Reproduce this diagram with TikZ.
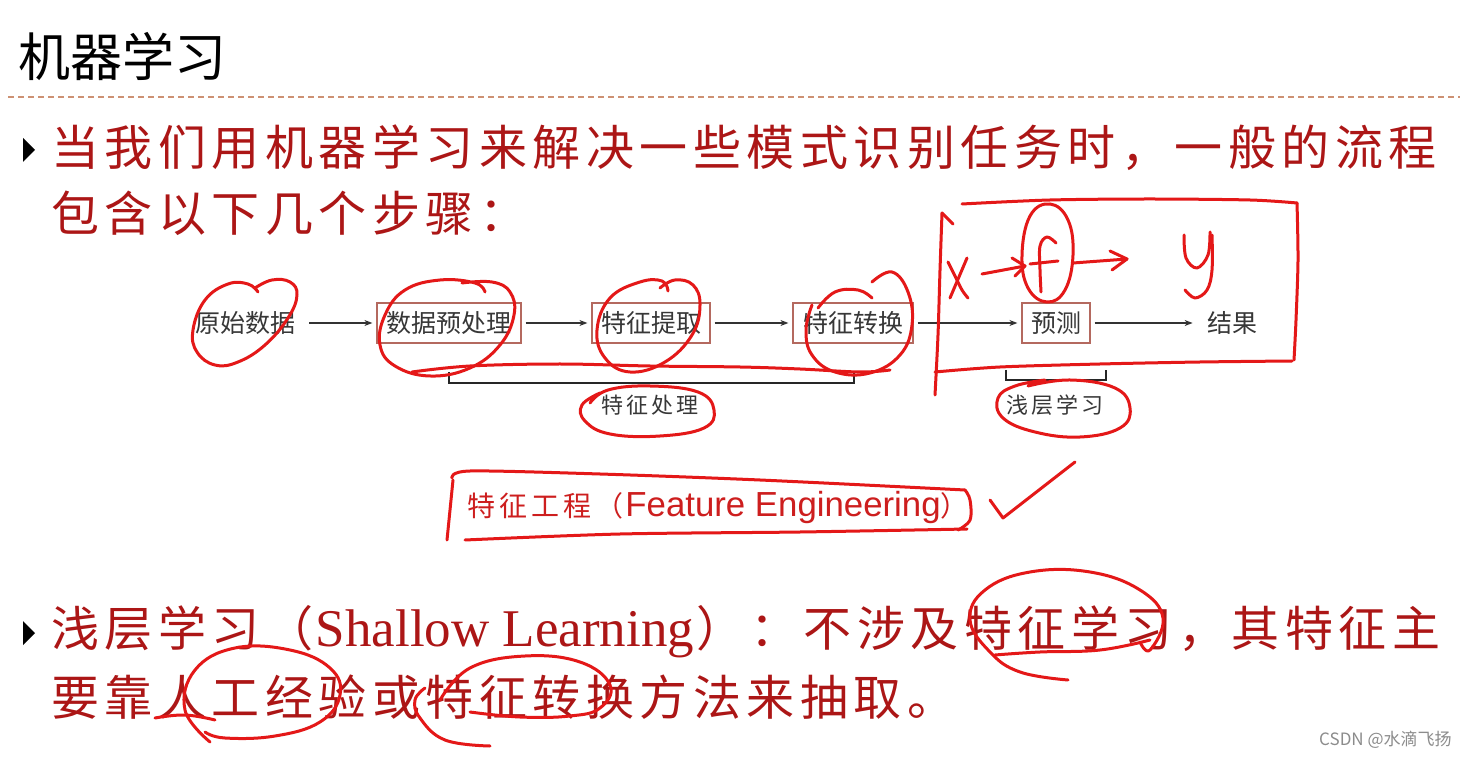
\documentclass[tikz,border=0pt]{standalone}
\usepackage{fontspec}
\setmainfont{Noto Sans CJK SC}
\newfontfamily\lserif{Liberation Serif}
\newfontfamily\lsans{Liberation Sans}
\usetikzlibrary{arrows.meta}
\definecolor{txtred}{RGB}{172,22,22}
\definecolor{annot}{RGB}{228,24,24}
\definecolor{fered}{RGB}{205,30,30}
\definecolor{dgray}{RGB}{55,55,55}
\definecolor{boxc}{RGB}{180,105,95}
\definecolor{dashc}{RGB}{205,145,115}
\makeatletter
\newcommand\spc[2]{\@tfor\sp@c:=#2\do{\makebox[#1][c]{\sp@c}}}
\makeatother
\newcommand\bigtxt{\fontsize{24pt}{24pt}\selectfont}
\begin{document}
\begin{tikzpicture}[x=0.5pt,y=-0.5pt,
  hand/.style={draw=annot,line width=1.5pt,line cap=round,line join=round},
  steplbl/.style={inner sep=1pt,text=dgray,font=\fontsize{12.5pt}{13pt}\selectfont},
  stepbox/.style={steplbl,draw=boxc,line width=0.6pt,minimum height=20pt},
  flow/.style={-{Stealth[length=4pt,width=3pt]},line width=0.6pt,draw=black!80},
  brk/.style={line width=0.7pt,draw=black!85},
  line/.style={anchor=west,inner sep=0pt,text=txtred}]
\useasboundingbox (0,0) rectangle (1465,758);
\fill[white] (0,0) rectangle (1465,758);
% title
\node[anchor=west,inner sep=0pt,font=\fontsize{26pt}{26pt}\selectfont] (title) at (18,57) {机器学习};
\draw[dashc,line width=0.6pt,dash pattern=on 3pt off 2pt] (8,97) -- (1460,97);
% bullets
\fill (23,138) -- (35,150) -- (23,162) -- cycle;
\fill (23,621) -- (35,633) -- (23,645) -- cycle;
\node[line] (l1) at (48,148) {\bigtxt\spc{26.75pt}{当我们用机器学习来解决一些模式识别任务时，一般的流程}};
\node[line] (l2) at (48,213) {\bigtxt\spc{26.75pt}{包含以下几个步骤：}};
\node[line] (l3) at (48,632) {\bigtxt\spc{26.75pt}{浅层学习（}{\lserif\fontsize{26.5pt}{26.5pt}\selectfont Shallow Learning}\spc{26.75pt}{）：不涉及特征学习，其特征主}};
\node[line] (l4) at (48,697) {\bigtxt\spc{26.75pt}{要靠人工经验或特征转换方法来抽取。}};
% flow diagram
\node[steplbl] (raw) at (245,323) {原始数据};
\node[stepbox,minimum width=72pt] (pre) at (449,323) {数据预处理};
\node[stepbox,minimum width=59pt] (fex) at (651,323) {特征提取};
\node[stepbox,minimum width=60pt] (ftr) at (853,323) {特征转换};
\node[stepbox,minimum width=34pt] (pred) at (1056,323) {预测};
\node[steplbl] (res) at (1232,323) {结果};
\draw[flow,shorten <=6pt,shorten >=2pt] (raw) -- (pre);
\draw[flow,shorten <=2pt,shorten >=2pt] (pre) -- (fex);
\draw[flow,shorten <=2pt,shorten >=2pt] (fex) -- (ftr);
\draw[flow,shorten <=2pt,shorten >=2pt] (ftr) -- (pred);
\draw[flow,shorten <=2pt,shorten >=6pt] (pred) -- (res);
\coordinate (b1) at (449,372); \coordinate (b2) at (854,372);
\coordinate (b3) at (1006,370); \coordinate (b4) at (1106,370);
\draw[brk] (b1) -- ++(0,11) -| (b2);
\draw[brk] (b3) -- ++(0,10) -| (b4);
\node[steplbl,font=\fontsize{11pt}{11pt}\selectfont] (fp) at (650,405) {\spc{12.5pt}{特征处理}};
\node[steplbl,font=\fontsize{11pt}{11pt}\selectfont] (sl) at (1055,405) {\spc{12.5pt}{浅层学习}};
% feature engineering
\node[anchor=west,inner sep=0pt,text=fered] (fe) at (465,508) {\fontsize{14pt}{14pt}\selectfont\spc{16pt}{特征工程（}{\lsans\fontsize{17.4pt}{17.4pt}\selectfont Feature Engineering}）};
% watermark
\node[anchor=east,inner sep=0pt,text=black!45,font=\fontsize{8.5pt}{8.5pt}\selectfont] (wm) at (1452,740) {CSDN @水滴飞扬};
% ---- handwritten annotations ----
\draw[hand] plot[smooth,tension=0.7] coordinates {(258,292) (248,284) (228,284) (205,300) (193,330) (197,352) (215,365) (238,362) (265,345) (288,318) (297,295) (290,282) (272,280) (255,288)};
\draw[hand] plot[smooth,tension=0.7] coordinates {(485,292) (475,283) (440,280) (405,290) (385,315) (380,345) (395,366) (430,376) (470,368) (500,345) (514,315) (510,292) (492,282) (462,283)};
\draw[hand] plot[smooth,tension=0.7] coordinates {(668,291) (662,281) (640,282) (610,298) (597,330) (605,358) (630,372) (665,362) (692,335) (700,305) (693,285) (675,280) (660,288)};
\draw[hand] plot[smooth,tension=0.7] coordinates {(818,308) (835,292) (858,290) (872,298)};
\draw[hand] plot[smooth,tension=0.7] coordinates {(872,282) (892,272) (908,292) (912,325) (900,355) (870,373) (835,372) (812,355) (806,330) (812,305)};
\draw[hand] plot[smooth,tension=0.6] coordinates {(412,372) (470,366) (560,364) (650,366) (740,367) (800,369) (860,372) (890,370)};
% box around x -> f -> y
\draw[hand] plot[smooth,tension=0.5] coordinates {(942,213) (940,270) (938,335) (935,395)};
\draw[hand] (942,213) -- (953,224);
\draw[hand] plot[smooth,tension=0.5] coordinates {(962,204) (1050,200) (1150,199) (1250,200) (1297,203)};
\draw[hand] plot[smooth,tension=0.5] coordinates {(1297,203) (1298,260) (1296,320) (1294,360)};
\draw[hand] plot[smooth,tension=0.5] coordinates {(1292,361) (1200,362) (1100,364) (1000,367) (935,372)};
\draw[hand] plot[smooth,tension=0.6] coordinates {(948,262) (955,276) (962,290) (968,298)};
\draw[hand] (967,258) -- (950,298);
\draw[hand] (982,274) -- (1025,266);
\draw[hand] (1012,258) -- (1025,266) -- (1015,276);
\draw[hand] plot[smooth,tension=0.6] coordinates {(1056,243) (1047,237) (1040,246) (1040,270) (1041,292)};
\draw[hand] (1030,264) -- (1058,261);
\draw[hand] plot[smooth cycle,tension=0.7] coordinates {(1050,204) (1068,220) (1073,255) (1065,290) (1047,302) (1028,288) (1022,255) (1030,216)};
\draw[hand] (1073,263) -- (1127,259);
\draw[hand] (1110,251) -- (1127,259) -- (1112,270);
\draw[hand] plot[smooth,tension=0.6] coordinates {(1184,235) (1186,258) (1197,268) (1208,255) (1210,232)};
\draw[hand] plot[smooth,tension=0.6] coordinates {(1212,235) (1212,270) (1207,290) (1195,298) (1185,290)};
% ellipses around labels
\draw[hand] plot[smooth,tension=0.7] coordinates {(590,403) (608,390) (650,386) (698,392) (714,410) (704,428) (660,436) (610,434) (585,421) (582,405) (600,393)};
\draw[hand] plot[smooth,tension=0.7] coordinates {(1028,386) (1070,380) (1115,388) (1130,408) (1120,428) (1080,437) (1035,432) (1003,418) (998,398) (1015,386) (1045,380)};
% feature engineering box and tick
\draw[hand] plot[smooth,tension=0.5] coordinates {(452,478) (470,471) (600,474) (760,480) (965,490)};
\draw[hand] plot[smooth,tension=0.6] coordinates {(965,490) (970,500) (970,520) (958,530)};
\draw[hand] plot[smooth,tension=0.5] coordinates {(967,529) (800,532) (620,534) (465,540)};
\draw[hand] plot[smooth,tension=0.5] coordinates {(453,480) (450,510) (447,540)};
\draw[hand] (990,500) -- (1003,518) -- (1075,462);
% bottom annotations
\draw[hand] plot[smooth,tension=0.7] coordinates {(1068,680) (1020,672) (990,652) (970,620) (985,590) (1030,572) (1090,572) (1140,590) (1163,618) (1150,650) (1140,642)};
\draw[hand] plot[smooth,tension=0.7] coordinates {(995,655) (1040,652) (1100,650) (1150,640)};
\draw[hand] plot[smooth,tension=0.7] coordinates {(155,718) (185,715) (215,720)};
\draw[hand] plot[smooth,tension=0.7] coordinates {(210,742) (185,710) (195,670) (235,648) (290,650) (330,668) (340,695) (320,722) (275,736) (225,738) (205,732)};
\draw[hand] plot[smooth,tension=0.7] coordinates {(490,746) (445,740) (420,718) (415,700) (425,688)};
\draw[hand] plot[smooth,tension=0.7] coordinates {(440,700) (470,668) (525,656) (580,662) (610,685) (600,708) (570,716) (520,717) (470,712)};
\end{tikzpicture}
\end{document}
